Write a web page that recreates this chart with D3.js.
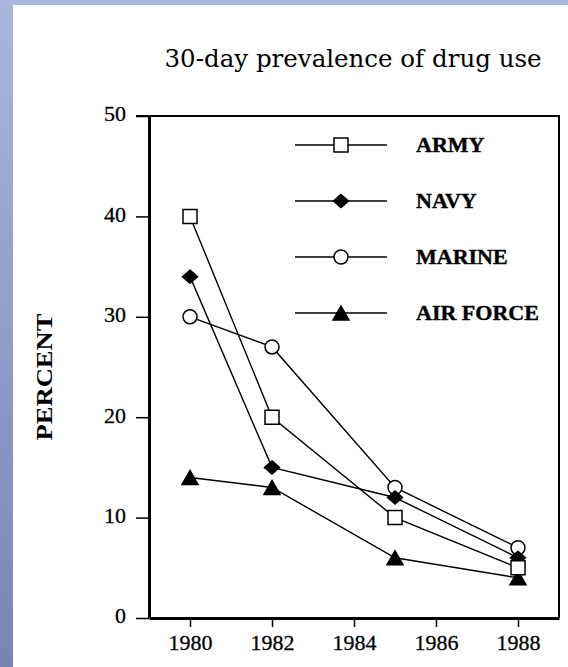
<!DOCTYPE html>
<html>
<head>
<meta charset="utf-8">
<script src="https://cdn.jsdelivr.net/npm/d3@7"></script>
<style>
  body { margin: 0; }
  svg { display: block; }
</style>
</head>
<body>
<svg width="568" height="667"></svg>
<script>
// values
var years = [1980, 1982, 1985, 1988];
var army = [40, 20, 10, 5];
var navy = [34, 15, 12, 6];
var marine = [30, 27, 13, 7];
var airforce = [14, 13, 6, 4];
var seriesNames = ["ARMY", "NAVY", "MARINE", "AIR FORCE"];
var yTicks = [0, 10, 20, 30, 40, 50];
var xTicks = [1980, 1982, 1984, 1986, 1988];

var svg = d3.select("svg"),
    width = +svg.attr("width"),
    height = +svg.attr("height");

// blue frame
var defs = svg.append("defs");
var grad = defs.append("linearGradient").attr("id", "frame")
    .attr("x1", 0).attr("y1", 0).attr("x2", 0).attr("y2", 1);
grad.append("stop").attr("offset", "0%").attr("stop-color", "#a9b7dc");
grad.append("stop").attr("offset", "100%").attr("stop-color", "#7685b4");
svg.append("rect").attr("width", width).attr("height", height).attr("fill", "url(#frame)");
svg.append("rect").attr("x", 13).attr("y", 5).attr("width", width - 13).attr("height", height - 5).attr("fill", "#fff");

var x = d3.scaleLinear().domain([1979, 1989]).range([149, 559]);
var y = d3.scaleLinear().domain([0, 50]).range([618, 116]);

// title
svg.append("text")
    .attr("x", 353).attr("y", 67)
    .attr("text-anchor", "middle")
    .attr("textLength", 377).attr("lengthAdjust", "spacingAndGlyphs")
    .style("font-family", "DejaVu Serif")
    .style("font-size", "24px")
    .text("30-day prevalence of drug use");

// y axis label
svg.append("text")
    .attr("transform", "translate(52,377) rotate(-90)")
    .attr("text-anchor", "middle")
    .attr("textLength", 127).attr("lengthAdjust", "spacingAndGlyphs")
    .style("font-family", "Liberation Serif")
    .style("font-weight", "bold")
    .style("font-size", "23px")
    .text("PERCENT");

// axes
var yAxis = svg.append("g")
    .attr("transform", "translate(149,0)")
    .call(d3.axisLeft(y).tickValues(yTicks).tickSize(13).tickSizeOuter(0).tickPadding(10));
var xAxis = svg.append("g")
    .attr("transform", "translate(0,618)")
    .call(d3.axisBottom(x).tickValues(xTicks).tickFormat(d3.format("d")).tickSize(9).tickSizeOuter(0).tickPadding(7));

yAxis.select(".domain").attr("stroke-width", 3);
xAxis.select(".domain").attr("stroke-width", 3);
svg.selectAll(".tick line").attr("stroke-width", 1.5);
svg.selectAll(".tick text")
    .style("font-family", "Liberation Serif")
    .style("font-size", "22px")
    .attr("fill", "#000")
    .attr("stroke", "#000")
    .attr("stroke-width", 0.3);
yAxis.selectAll(".tick text").attr("dy", "0.22em");

// top and right border
svg.append("line")
    .attr("x1", 136).attr("x2", x(1989) + 1)
    .attr("y1", y(50)).attr("y2", y(50))
    .attr("stroke", "#000").attr("stroke-width", 2);
svg.append("line")
    .attr("x1", x(1989)).attr("x2", x(1989))
    .attr("y1", y(50)).attr("y2", y(0))
    .attr("stroke", "#000").attr("stroke-width", 2);

// marker shapes
var shapes = {
    square: "M-7,-7h14v14h-14z",
    diamond: "M0,-6.5L7.5,0L0,6.5L-7.5,0Z",
    circle: "M7,0A7,7 0 1,1 -7,0A7,7 0 1,1 7,0Z",
    triangle: "M0,-7L8,7L-8,7Z"
};

// drawn bottom to top so the squares end up on top
var series = [
    { name: seriesNames[3], values: airforce, shape: "triangle", fill: "#000" },
    { name: seriesNames[2], values: marine, shape: "circle", fill: "#fff" },
    { name: seriesNames[1], values: navy, shape: "diamond", fill: "#000" },
    { name: seriesNames[0], values: army, shape: "square", fill: "#fff" }
];

var line = d3.line()
    .x(function (d) { return x(d.year); })
    .y(function (d) { return y(d.value); });

series.forEach(function (s) {
    var pts = years.map(function (yr, i) { return { year: yr, value: s.values[i] }; });
    svg.append("path")
        .datum(pts)
        .attr("d", line)
        .attr("fill", "none")
        .attr("stroke", "#000")
        .attr("stroke-width", 1.4);
});

series.forEach(function (s) {
    var pts = years.map(function (yr, i) { return { year: yr, value: s.values[i] }; });
    svg.append("g").selectAll("path")
        .data(pts)
        .enter()
        .append("path")
        .attr("transform", function (d) { return "translate(" + x(d.year) + "," + y(d.value) + ")"; })
        .attr("d", shapes[s.shape])
        .attr("fill", s.fill)
        .attr("stroke", "#000")
        .attr("stroke-width", 1.5);
});

// legend, ARMY on top
var legend = svg.append("g").attr("class", "legend");
var legendRows = seriesNames.map(function (n) {
    return series.filter(function (s) { return s.name === n; })[0];
});

legendRows.forEach(function (s, i) {
    var ly = 145 + i * 56;
    legend.append("line")
        .attr("x1", 295).attr("x2", 387)
        .attr("y1", ly).attr("y2", ly)
        .attr("stroke", "#000").attr("stroke-width", 1.5);
    legend.append("path")
        .attr("transform", "translate(341," + ly + ")")
        .attr("d", shapes[s.shape])
        .attr("fill", s.fill)
        .attr("stroke", "#000")
        .attr("stroke-width", 1.5);
    legend.append("text")
        .attr("x", 416).attr("y", ly + 7)
        .style("font-family", "Liberation Serif")
        .style("font-weight", "bold")
        .style("font-size", "22px")
        .attr("stroke", "#000")
        .attr("stroke-width", 0.4)
        .text(s.name);
});
</script>
</body>
</html>
